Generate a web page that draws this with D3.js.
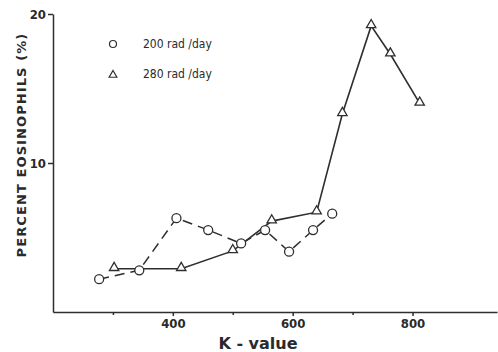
<!DOCTYPE html>
<html>
<head>
<meta charset="utf-8">
<script src="https://cdn.jsdelivr.net/npm/d3@7"></script>
<style>
  body { margin: 0; background: #fff; }
  text { fill: #2a2a2a; }
</style>
</head>
<body>
<svg width="498" height="352"></svg>
<script>
// 200 rad/day (circles, dashed)
const kCircle = [277, 344, 406, 459, 514, 554, 594, 634, 666];
const eoCircle = [2.2, 2.8, 6.3, 5.5, 4.6, 5.5, 4.05, 5.5, 6.6];
// 280 rad/day (triangles, solid)
const kTri = [302, 414, 500, 565, 640, 683, 731, 763, 812];
const eoTri = [2.9, 2.9, 4.1, 6.1, 6.7, 13.3, 19.2, 17.3, 14.0];
const xTicks = [400, 600, 800];
const xMinor = [300, 500, 700];
const yTicks = [10, 20];
const legendLabels = ['200 rad /day', '280 rad /day'];

const svg = d3.select('svg');
const ink = '#2e2e2e';

const x = d3.scaleLinear().domain([200, 941]).range([53, 497]);
const y = d3.scaleLinear().domain([0, 20]).range([312, 14]);

// axes
svg.append('g').attr('transform', `translate(0,${y(0)})`)
    .call(d3.axisBottom(x).tickValues(xTicks).tickSize(4).tickSizeOuter(0).tickPadding(3));
svg.append('g').attr('transform', `translate(0,${y(0)})`)
    .call(d3.axisBottom(x).tickValues(xMinor).tickSize(3).tickFormat('').tickSizeOuter(0))
    .select('.domain').remove();
svg.append('g').attr('transform', `translate(${x(200)},0)`)
    .call(d3.axisLeft(y).tickValues(yTicks).tickSize(5).tickSizeOuter(0).tickPadding(2));

svg.selectAll('.domain, .tick line').attr('stroke', ink).attr('stroke-width', 1.5);
svg.selectAll('.tick text')
    .attr('font-family', '"DejaVu Sans Condensed", "DejaVu Sans", sans-serif')
    .attr('font-size', 13)
    .attr('font-weight', 600)
    .attr('fill', ink);

// lines
const line = d3.line().x(d => x(d[0])).y(d => y(d[1]));
const circData = kCircle.map((k, i) => [k, eoCircle[i]]);
const triData = kTri.map((k, i) => [k, eoTri[i]]);

svg.append('path').datum(circData).attr('d', line)
    .attr('fill', 'none').attr('stroke', ink).attr('stroke-width', 1.5)
    .attr('stroke-dasharray', '10,6');
svg.append('path').datum(triData).attr('d', line)
    .attr('fill', 'none').attr('stroke', ink).attr('stroke-width', 1.6);

const triSym = d3.symbol().type(d3.symbolTriangle).size(38);

svg.selectAll('.tri').data(triData).enter().append('path')
    .classed('tri', true)
    .attr('d', triSym)
    .attr('transform', d => `translate(${x(d[0])},${y(d[1]) - 1})`)
    .attr('fill', '#fff').attr('stroke', ink).attr('stroke-width', 1.3);

svg.selectAll('.circ').data(circData).enter().append('circle')
    .classed('circ', true)
    .attr('cx', d => x(d[0])).attr('cy', d => y(d[1])).attr('r', 4.5)
    .attr('fill', '#fff').attr('stroke', ink).attr('stroke-width', 1.3);

// legend
const leg = svg.append('g');
leg.append('circle').attr('cx', 113).attr('cy', 44).attr('r', 3.5)
    .attr('fill', '#fff').attr('stroke', ink).attr('stroke-width', 1.2);
leg.append('path').attr('d', d3.symbol().type(d3.symbolTriangle).size(26))
    .attr('transform', 'translate(113,75)')
    .attr('fill', '#fff').attr('stroke', ink).attr('stroke-width', 1.2);
leg.selectAll('text').data(legendLabels).enter().append('text')
    .attr('x', 143).attr('y', (d, i) => 48 + i * 30)
    .attr('font-family', '"DejaVu Sans Condensed", "DejaVu Sans", sans-serif')
    .attr('font-size', 12)
    .attr('fill', ink)
    .text(d => d);

// axis titles
svg.append('text')
    .attr('transform', 'translate(26,145) rotate(-90)')
    .attr('text-anchor', 'middle')
    .attr('font-family', '"DejaVu Sans", sans-serif')
    .attr('font-size', 13)
    .attr('font-weight', 600)
    .attr('letter-spacing', 1.1)
    .text('PERCENT EOSINOPHILS (%)');

svg.append('text')
    .attr('x', 258).attr('y', 349)
    .attr('text-anchor', 'middle')
    .attr('font-family', '"DejaVu Sans", sans-serif')
    .attr('font-size', 16)
    .attr('font-weight', 600)
    .text('K - value');
</script>
</body>
</html>
